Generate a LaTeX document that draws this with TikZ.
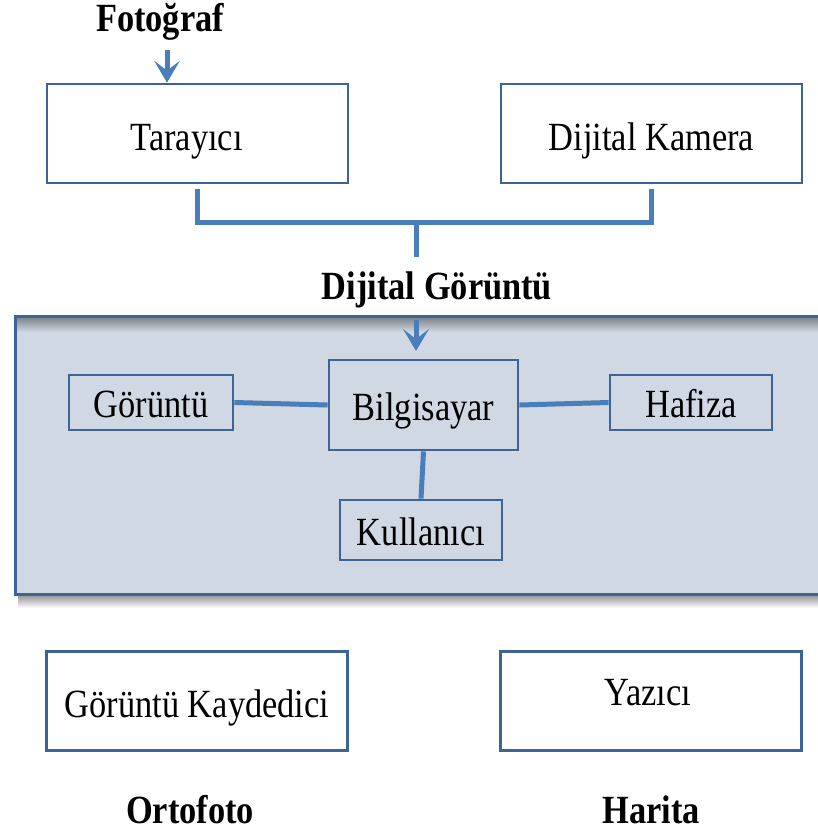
\documentclass[tikz,border=0pt]{standalone}
\usepackage{fontspec}
\setmainfont{Liberation Serif}[FakeStretch=0.86]
\usetikzlibrary{arrows.meta}
\definecolor{boxline}{HTML}{3C6496}
\definecolor{conn}{HTML}{4A7EBB}
\definecolor{panel}{HTML}{D0D8E3}
\tikzset{
  bigtxt/.style={font=\fontsize{40}{46}\selectfont, inner sep=0pt},
  boldtxt/.style={font=\fontsize{40}{46}\selectfont\bfseries, inner sep=0pt},
  wbox/.style={draw=boxline, line width=2.8pt, fill=white, minimum width=301pt, minimum height=99pt, inner sep=0pt, text height=36pt, text depth=3pt, font=\fontsize{40}{46}\selectfont},
  ibox/.style={draw=boxline, line width=2.8pt, fill=panel, inner sep=0pt, text height=33pt, text depth=3pt, font=\fontsize{40}{46}\selectfont},
  connline/.style={draw=conn, line width=5pt},
  arr/.style={draw=conn, line width=5pt, -{Stealth[length=22pt,width=26pt,inset=10pt,line width=0pt]}},
}
\begin{document}
\begin{tikzpicture}[x=1pt,y=-1pt]
\useasboundingbox (0,0) rectangle (818,831);
\clip (0,0) rectangle (818,831);
% container panel with shadow
\shade[top color=black!45, bottom color=white] (18,594) rectangle (830,608);
\fill[panel] (15,316) rectangle (830,594);
\shade[top color=black!40!panel, bottom color=panel] (15,317) rectangle (830,332);
\draw[boxline, line width=3pt] (15,316) rectangle (830,594);
% top
\node[boldtxt] (foto) at (160,22) {Fotoğraf};
\node[wbox] (tar) at (197.5,133.5) {\hspace*{-22pt}Tarayıcı};
\node[wbox] (kam) at (651.5,133.5) {Dijital Kamera};
\coordinate (fa) at (167,50);
\draw[arr] (fa) -- (tar.north -| fa);
\coordinate (brk) at (416,222);
\coordinate (stem) at (416,257);
\draw[connline] ([yshift=-5pt]tar.south) |- (brk) -| ([yshift=-5pt]kam.south);
\draw[connline] (brk) -- (stem);
\node[boldtxt] (dg) at (437,290) {Dijital Görüntü};
% inside
\node[ibox, minimum width=164pt, minimum height=55pt] (gor) at (151,402.5) {Görüntü};
\node[ibox, minimum width=189pt, minimum height=90pt] (bil) at (423.5,405) {Bilgisayar};
\node[ibox, minimum width=162pt, minimum height=55pt] (haf) at (691,402.5) {Hafiza};
\node[ibox, minimum width=162pt, minimum height=60pt] (kul) at (421,530) {Kullanıcı};
\coordinate (da) at (416,320);
\draw[arr] (da) -- (416,351);
\draw[connline] (gor.east) -- (bil.west);
\draw[connline] (bil.east) -- (haf.west);
\draw[connline] (bil.south) -- (kul.north);
% bottom
\node[wbox] (kay) at (197,701) {Görüntü Kaydedici};
\node[wbox] (yaz) at (651,701) {};
\node[bigtxt] (yazt) at (648,693) {Yazıcı};
\node[boldtxt] (orto) at (190,810) {Ortofoto};
\node[boldtxt] (har) at (651,810) {Harita};
\end{tikzpicture}
\end{document}
